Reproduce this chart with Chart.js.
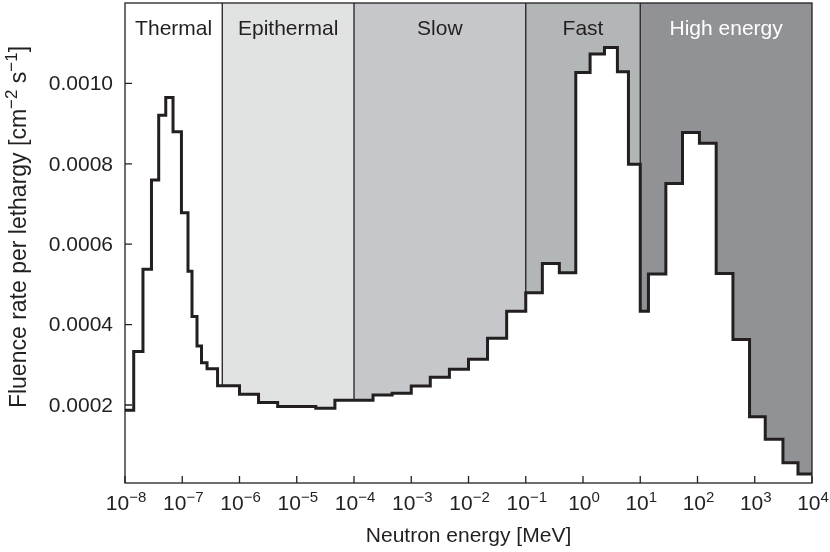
<!DOCTYPE html>
<html>
<head>
<meta charset="utf-8">
<script src="https://cdn.jsdelivr.net/npm/chart.js@4.4.0/dist/chart.umd.min.js"></script>
<style>
  body { margin: 0; background: #fff; }
  canvas { display: block; }
</style>
</head>
<body>
<canvas id="grafico" width="830" height="552"></canvas>
<script>
// bordas dos bins (MeV) e fluencia por letargia em cada bin
const binEdges = [1e-8, 1.42e-8, 2.06e-8, 2.9e-8, 3.88e-8, 5.15e-8, 6.9e-8, 9.68e-8, 1.26e-7, 1.48e-7,
  1.81e-7, 2.17e-7, 2.71e-7, 4.14e-7, 1e-6, 2.15e-6, 4.64e-6, 1e-5, 2.15e-5, 4.64e-5,
  1e-4, 2.15e-4, 4.64e-4, 1e-3, 2.15e-3, 4.64e-3, 1e-2, 2.15e-2, 4.64e-2, 0.1,
  0.195, 0.386, 0.748, 1.33, 2.37, 3.99, 6.22, 10, 13.9, 28,
  54.7, 108, 212, 416, 811, 1525, 3110, 5690, 1e4];
const fluence = [0.000187, 0.000333, 0.000538, 0.00076, 0.000921, 0.000965, 0.00088, 0.000678, 0.000533, 0.00042,
  0.000347, 0.000305, 0.00029, 0.000248, 0.000227, 0.000206, 0.000196, 0.000196, 0.000192, 0.000212,
  0.000212, 0.000225, 0.000229, 0.000247, 0.000269, 0.000289, 0.000314, 0.000366, 0.000433, 0.000479,
  0.000552, 0.000529, 0.001027, 0.001073, 0.001089, 0.001029, 0.000799, 0.000433, 0.000526, 0.000751,
  0.000878, 0.000851, 0.000527, 0.000363, 0.000171, 0.000115, 0.0000565, 0.0000284];

const regionNames = ['Thermal', 'Epithermal', 'Slow', 'Fast', 'High energy'];
const regionBounds = [1e-8, 5e-7, 1e-4, 1e-1, 10, 1e4];
const xTickExponents = [-8, -7, -6, -5, -4, -3, -2, -1, 0, 1, 2, 3, 4];
const yTicks = [0.0002, 0.0004, 0.0006, 0.0008, 0.0010];

const regionColors = ['#ffffff', '#e1e2e2', '#c6c7cb', '#b3b6b7', '#919296'];
const ink = '#231f20';
const fonte = '"Liberation Sans", Arial, Helvetica, sans-serif';

function curvePoints(lo, hi) {
  const pts = [];
  let last = null;
  fluence.forEach((v, i) => {
    const a = Math.max(binEdges[i], lo);
    const b = Math.min(binEdges[i + 1], hi);
    if (b <= a) return;
    pts.push({ x: a, y: v });
    last = v;
  });
  pts.push({ x: hi, y: last });
  return pts;
}

// maior valor da curva encostado numa fronteira (topo do degrau)
function valueAt(e) {
  let best = 0;
  fluence.forEach((v, i) => {
    if (e >= binEdges[i] && e <= binEdges[i + 1]) best = Math.max(best, v);
  });
  return best;
}

// texto com expoentes; parts = [[texto, sobrescrito?], ...]
function richText(ctx, parts, x, y, size = 21, supSize = 15, rise = 8) {
  const big = size + 'px ' + fonte, small = supSize + 'px ' + fonte;
  let w = 0;
  parts.forEach(([t, sup]) => { ctx.font = sup ? small : big; w += ctx.measureText(t).width; });
  let cx = x - w / 2;
  ctx.textAlign = 'left';
  ctx.textBaseline = 'alphabetic';
  parts.forEach(([t, sup]) => {
    ctx.font = sup ? small : big;
    ctx.fillText(t, cx, sup ? y - rise : y);
    cx += ctx.measureText(t).width;
  });
}

const decor = {
  id: 'decor',
  afterDatasetsDraw(chart) {
    const { ctx, chartArea: a, scales: { x, y } } = chart;
    ctx.save();
    ctx.strokeStyle = ink;
    ctx.fillStyle = ink;

    // divisorias entre as faixas
    ctx.lineWidth = 1.3;
    regionBounds.slice(1, -1).forEach(e => {
      const px = x.getPixelForValue(e);
      ctx.beginPath();
      ctx.moveTo(px, a.top);
      ctx.lineTo(px, y.getPixelForValue(valueAt(e)));
      ctx.stroke();
    });

    // moldura e marcas para dentro
    ctx.strokeRect(a.left, a.top, a.right - a.left, a.bottom - a.top);
    ctx.beginPath();
    xTickExponents.forEach(p => {
      const px = x.getPixelForValue(Math.pow(10, p));
      ctx.moveTo(px, a.bottom);
      ctx.lineTo(px, a.bottom - 7);
    });
    yTicks.forEach(v => {
      const py = y.getPixelForValue(v);
      ctx.moveTo(a.left, py);
      ctx.lineTo(a.left + 7, py);
    });
    ctx.stroke();

    // nomes das faixas
    ctx.font = '21px ' + fonte;
    ctx.textAlign = 'center';
    ctx.textBaseline = 'alphabetic';
    regionNames.forEach((nome, i) => {
      const mid = (x.getPixelForValue(regionBounds[i]) + x.getPixelForValue(regionBounds[i + 1])) / 2;
      ctx.fillStyle = i === regionNames.length - 1 ? '#ffffff' : ink;
      ctx.fillText(nome, mid, a.top + 32);
    });
    ctx.fillStyle = ink;

    // rotulos do eixo y
    ctx.textAlign = 'right';
    ctx.textBaseline = 'middle';
    yTicks.forEach(v => ctx.fillText(v.toFixed(4), a.left - 12, y.getPixelForValue(v) + 1));

    // rotulos do eixo x
    xTickExponents.forEach(p => {
      const px = x.getPixelForValue(Math.pow(10, p));
      richText(ctx, [['10', false], [(p < 0 ? '\u2212' : '') + Math.abs(p), true]], px + 1, a.bottom + 27);
    });

    // titulos
    richText(ctx, [['Neutron energy [MeV]', false]], (a.left + a.right) / 2, a.bottom + 59);
    ctx.save();
    ctx.translate(26, a.top + 224);
    ctx.rotate(-Math.PI / 2);
    richText(ctx, [['Fluence rate per lethargy [cm', false], ['\u22122', true], [' s', false], ['\u22121', true], [']', false]], 0, 0, 23, 17, 9);
    ctx.restore();

    ctx.restore();
  }
};

const datasets = [{
  label: 'Fluence',
  data: curvePoints(binEdges[0], binEdges[binEdges.length - 1]),
  stepped: 'before',
  borderColor: ink,
  borderWidth: 3,
  pointRadius: 0,
  fill: false
}];

regionNames.forEach((nome, i) => {
  datasets.push({
    label: nome,
    data: curvePoints(regionBounds[i], regionBounds[i + 1]),
    stepped: 'before',
    borderColor: 'transparent',
    borderWidth: 0,
    pointRadius: 0,
    backgroundColor: regionColors[i],
    fill: 'end'
  });
});

new Chart(document.getElementById('grafico').getContext('2d'), {
  type: 'line',
  data: { datasets },
  options: {
    responsive: false,
    animation: false,
    layout: { padding: { left: 125, right: 18, top: 3, bottom: 69 } },
    plugins: { legend: { display: false }, tooltip: { enabled: false } },
    scales: {
      x: { type: 'logarithmic', min: 1e-8, max: 1e4, display: false },
      y: { type: 'linear', min: 0.000006, max: 0.0012, display: false }
    }
  },
  plugins: [decor]
});
</script>
</body>
</html>
